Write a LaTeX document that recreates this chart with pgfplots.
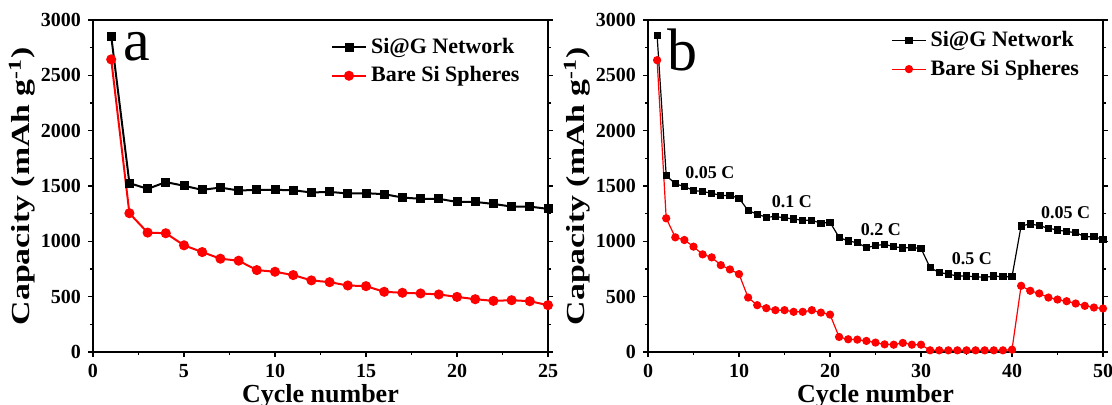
\documentclass[border=0pt]{standalone}
\usepackage{fontspec}
\setmainfont{Liberation Serif}
\usepackage{graphicx}
\usepackage{pgfplots}
\pgfplotsset{compat=1.18}

\pgfplotsset{capstyle/.style={
    scale only axis, width=227.5pt, height=166pt,
    ymin=0, ymax=3000, ytick={0,500,...,3000},
    minor x tick num=1, minor y tick num=1,
    tick align=outside, xtick pos=left, ytick pos=both,
    major tick length=2.5pt, minor tick length=1.5pt,
    axis line style={line width=0.75pt},
    every tick/.style={black, line width=0.6pt},
    ticklabel style={font=\fontsize{10}{12}\selectfont\bfseries},
    /pgf/number format/assume math mode=true,
    /pgf/number format/set thousands separator={},
    xlabel={Cycle number},
    ylabel={\scalebox{1.3}[1]{Capacity (mAh g\textsuperscript{-1})}},
    label style={font=\fontsize{13}{15}\selectfont\bfseries},
    xlabel style={yshift=3.5pt},
    ylabel style={yshift=-4pt},
    legend style={draw=none, fill=none, font=\fontsize{11}{13}\selectfont\bfseries,
        at={(0.96,0.97)}, anchor=north east, row sep=1pt},
    legend cell align=left,
}}

\begin{document}
\begin{tikzpicture}
\path[use as bounding box] (-46.5pt,-26.5pt) rectangle (509.5pt,176pt);

% panel a
\begin{axis}[capstyle, xmin=0, xmax=25, xtick={0,5,...,25}]
\addplot[black, line width=1pt, mark=square*, mark size=1.75pt] coordinates {
(1,2855) (2,1526) (3,1474) (4,1535) (5,1502) (6,1465) (7,1486) (8,1459)
(9,1465) (10,1465) (11,1462) (12,1441) (13,1447) (14,1432) (15,1435)
(16,1426) (17,1396) (18,1384) (19,1384) (20,1356) (21,1356) (22,1338)
(23,1314) (24,1314) (25,1293)
};
\addlegendentry{Si@G Network}
\addplot[red, line width=1pt, mark=*, mark size=2pt] coordinates {
(1,2644) (2,1254) (3,1079) (4,1073) (5,964) (6,903) (7,843) (8,825)
(9,740) (10,725) (11,695) (12,647) (13,631) (14,601) (15,595) (16,544)
(17,535) (18,529) (19,520) (20,498) (21,477) (22,462) (23,468) (24,459)
(25,423)
};
\addlegendentry{Bare Si Spheres}
\node[font=\fontsize{30}{30}\selectfont] at (axis cs:2.4,2756) {a};
\end{axis}

% panel b
\begin{axis}[capstyle, at={(277.5pt,0)}, xmin=0, xmax=50, xtick={0,10,...,50},
    legend style={at={(0.97,0.99)}}]
\addplot[black, line width=0.6pt, mark=square*, mark size=1.5pt] coordinates {
(1,2861) (2,1595) (3,1520) (4,1495) (5,1459) (6,1450) (7,1435) (8,1414)
(9,1414) (10,1390) (11,1278) (12,1245) (13,1218) (14,1224) (15,1212)
(16,1202) (17,1190) (18,1190) (19,1163) (20,1172) (21,1036) (22,1003)
(23,988) (24,943) (25,961) (26,973) (27,952) (28,940) (29,943) (30,937)
(31,761) (32,719) (33,704) (34,686) (35,686) (36,680) (37,674) (38,686)
(39,680) (40,680) (41,1139) (42,1157) (43,1142) (44,1118) (45,1103)
(46,1088) (47,1079) (48,1042) (49,1042) (50,1018)
};
\addlegendentry{Si@G Network}
\addplot[red, line width=0.6pt, mark=*, mark size=1.75pt] coordinates {
(1,2637) (2,1208) (3,1036) (4,1012) (5,952) (6,882) (7,855) (8,785)
(9,746) (10,704) (11,492) (12,423) (13,396) (14,378) (15,378) (16,363)
(17,363) (18,378) (19,356) (20,338) (21,136) (22,115) (23,112) (24,100)
(25,85) (26,69) (27,66) (28,82) (29,66) (30,66) (31,15) (32,15) (33,15)
(34,15) (35,15) (36,15) (37,15) (38,15) (39,15) (40,21) (41,598) (42,553)
(43,529) (44,492) (45,474) (46,459) (47,438) (48,417) (49,402) (50,393)
};
\addlegendentry{Bare Si Spheres}
\node[font=\fontsize{30}{30}\selectfont] at (axis cs:3.75,2729) {b};
\begin{scope}[font=\fontsize{9}{10}\selectfont\bfseries]
\node at (axis cs:6.8,1617) {0.05 C};
\node at (axis cs:15.8,1355) {0.1 C};
\node at (axis cs:25.6,1102) {0.2 C};
\node at (axis cs:35.6,840) {0.5 C};
\node at (axis cs:45.9,1256) {0.05 C};
\end{scope}
\end{axis}
\end{tikzpicture}
\end{document}
